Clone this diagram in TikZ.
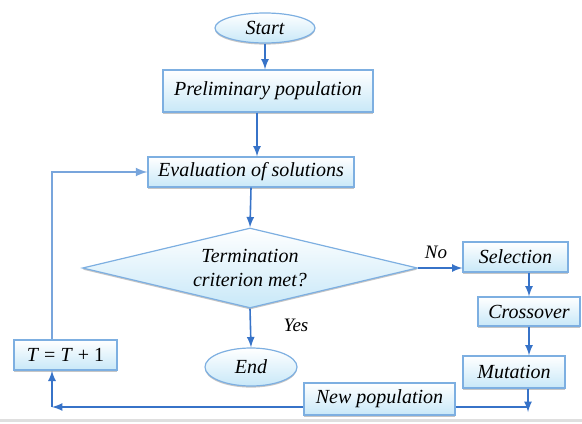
\documentclass[tikz,border=0pt]{standalone}
\usepackage{fontspec}
\setmainfont{Liberation Serif}
\usetikzlibrary{shapes.geometric,shadows}
\definecolor{boxline}{RGB}{125,175,225}
\definecolor{boxfill}{RGB}{200,232,248}
\definecolor{flowblue}{RGB}{55,115,200}
\definecolor{loopblue}{RGB}{120,165,220}
\tikzset{
  block/.style={rectangle,draw=boxline,line width=0.6pt,top color=white,bottom color=boxfill,
    drop shadow={shadow xshift=0pt,shadow yshift=-0.8pt,opacity=0.45},
    inner sep=0pt,font=\itshape\fontsize{10}{12}\selectfont},
  term/.style={block,ellipse},
  decide/.style={block,diamond,aspect=4.2,align=center},
  flow/.style={draw=flowblue,line width=0.8pt,-latex},
  lbl/.style={font=\itshape\fontsize{9.5}{11}\selectfont}
}
\begin{document}
\begin{tikzpicture}[x=0.5pt,y=0.5pt,yscale=-1]
\useasboundingbox (0,0) rectangle (582,423);

% terminals and boxes
\node[term,minimum width=50pt,minimum height=15pt] (start) at (265,28) {Start};
\node[block,minimum width=105pt,minimum height=21pt] (prelim) at (268,91) {Preliminary population};
\node[block,minimum width=103pt,minimum height=15pt] (eval) at (251,172) {Evaluation of solutions};
\node[decide,minimum width=167.5pt,minimum height=40pt] (crit) at (250,268) {Termination\\criterion met?};
\node[term,minimum width=46pt,minimum height=19pt] (end) at (251,367) {End};
\node[block,minimum width=51.5pt,minimum height=15pt] (tinc) at (65.5,355) {T\/ \upshape = \itshape T\/ \upshape + 1};
\node[block,minimum width=52.5pt,minimum height=15pt] (sel) at (515.5,257) {Selection};
\node[block,minimum width=51pt,minimum height=14.5pt] (cross) at (529,311.5) {Crossover};
\node[block,minimum width=51pt,minimum height=16pt] (mut) at (514,372) {Mutation};

% bottom return line, drawn before the new population box
\coordinate (br) at (528,407);
\coordinate (bl) at (52,407);
\draw[flow] (br |- mut.south) -- ([yshift=2.5pt]br);
\draw[flow] (br) -- (bl);
\draw[flow] (bl) -- (bl |- tinc.south);
\node[block,minimum width=75.5pt,minimum height=16pt] (newpop) at (379.5,399) {New population};

% main flow
\draw[flow] (start.south) -- (start.south |- prelim.north);
\draw[flow] ([xshift=-5.5pt]prelim.south) -- ([xshift=-5.5pt]prelim.south |- eval.north);
\draw[flow] (eval.south) -- (crit.north);
\draw[flow] (crit.south) -- (end.north);
\draw[flow] (crit.east) -- (crit.east -| sel.west);
\draw[flow] (cross.north |- sel.south) -- (cross.north);
\draw[flow] (cross.south) -- (cross.south |- mut.north);

% loop back
\draw[draw=loopblue,line width=1pt,-latex] (bl |- tinc.north) |- (eval.west);

% labels
\node[lbl] (no) at (436,252) {No};
\node[lbl] (yes) at (296,325) {Yes};

% page rule
\draw[gray!25,line width=1.5pt] (0,420) -- (582,420);
\end{tikzpicture}
\end{document}
